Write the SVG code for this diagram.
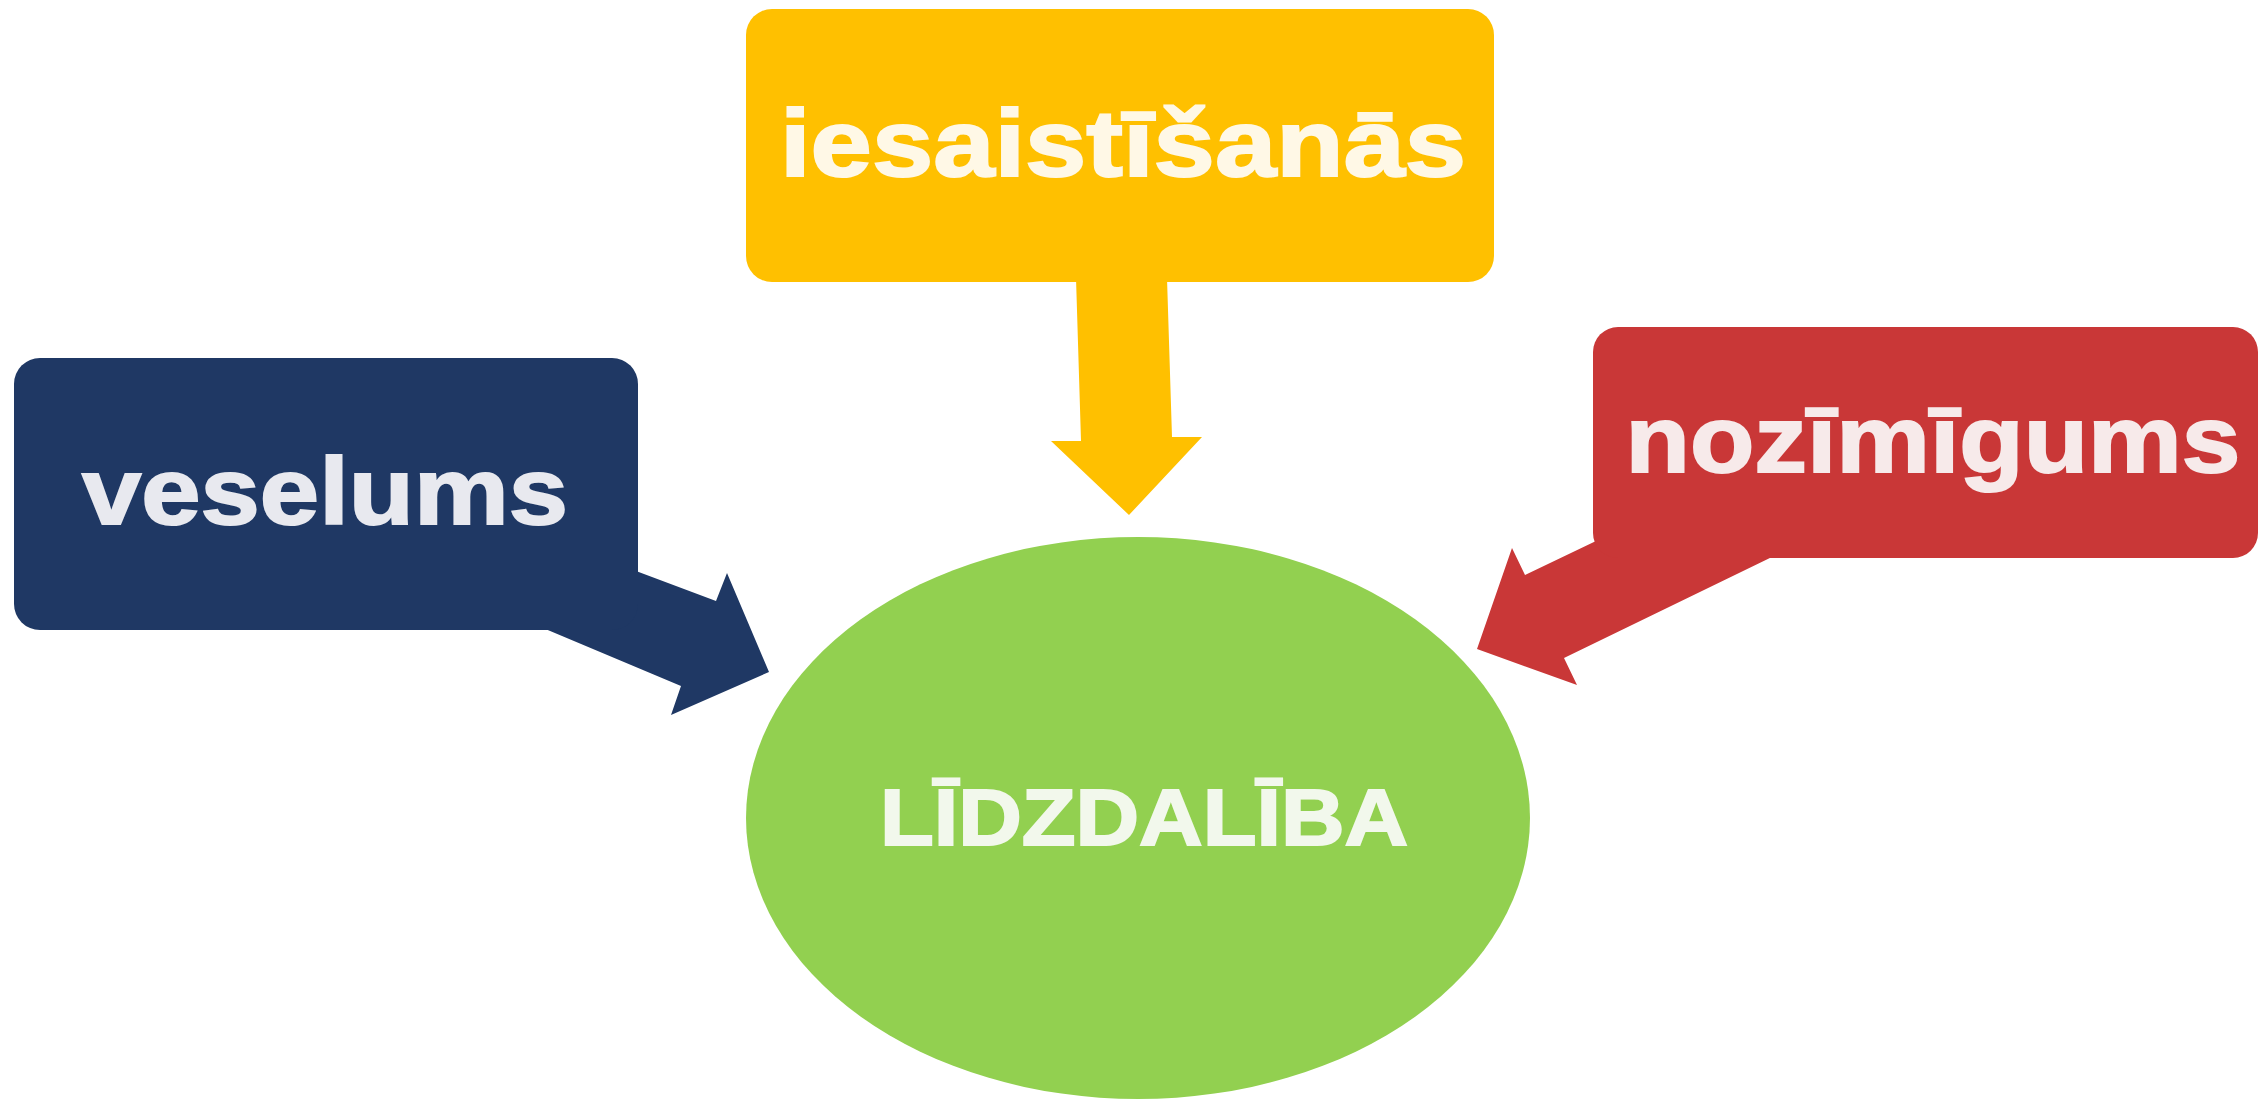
<svg xmlns="http://www.w3.org/2000/svg" width="2259" height="1100" viewBox="0 0 2259 1100">
<style>
.lbl{font-family:"Liberation Sans",Arial,sans-serif;font-weight:bold;text-anchor:middle;stroke-width:2;stroke-linejoin:miter}
</style>
<rect x="0" y="0" width="2259" height="1100" fill="#FFFFFF"/>
<g id="connectors">
<polygon id="arrow-iesaistisanas" points="1076,278 1167,278 1172,437 1202,437 1129,515 1051,441 1081,441" fill="#FFC000"/>
<polygon id="arrow-veselums" points="636,571 716,601 727,573 769,672 671,715 681,686 543,628" fill="#1F3864"/>
<polygon id="arrow-nozimigums" points="1596,541 1525,575 1512,548 1477,649 1577,685 1564,658 1774,556" fill="#C93737"/>
</g>
<g id="node-lidzdaliba">
<ellipse cx="1138" cy="818" rx="392" ry="281" fill="#92D050"/>
<text class="lbl" x="1144" y="845" font-size="80" fill="#F2F8EC" stroke="#F2F8EC" textLength="528" lengthAdjust="spacingAndGlyphs">LĪDZDALĪBA</text>
</g>
<g id="node-iesaistisanas">
<rect x="746" y="9" width="748" height="273" rx="26" fill="#FFC000"/>
<text class="lbl" x="1123" y="176" font-size="95" fill="#FFF8E6" stroke="#FFF8E6" textLength="686" lengthAdjust="spacingAndGlyphs">iesaistīšanās</text>
</g>
<g id="node-veselums">
<rect x="14" y="358" width="624" height="272" rx="26" fill="#1F3864"/>
<text class="lbl" x="325" y="524" font-size="95" fill="#E8E9EF" stroke="#E8E9EF" textLength="486" lengthAdjust="spacingAndGlyphs">veselums</text>
</g>
<g id="node-nozimigums">
<rect x="1593" y="327" width="665" height="231" rx="25" fill="#C93737"/>
<text class="lbl" x="1933" y="472" font-size="95" fill="#F7EAEA" stroke="#F7EAEA" textLength="615" lengthAdjust="spacingAndGlyphs">nozīmīgums</text>
</g>
</svg>
